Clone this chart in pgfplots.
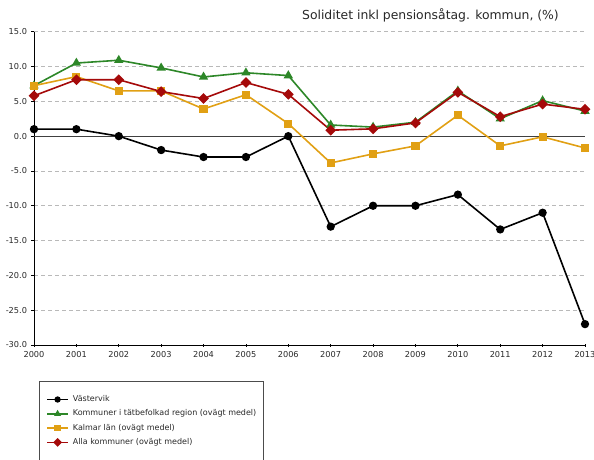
\documentclass[border=0pt]{standalone}
\usepackage{fontspec}
\setmainfont{DejaVu Sans}
\usepackage{pgfplots}
\pgfplotsset{compat=1.18}
\definecolor{cgreen}{RGB}{45,135,40}
\definecolor{cyellow}{RGB}{225,160,20}
\definecolor{cred}{RGB}{165,10,10}
\definecolor{cgrid}{RGB}{185,185,185}
\definecolor{ctext}{RGB}{40,40,40}
\begin{document}
\begin{tikzpicture}[x=1pt,y=1pt]
\useasboundingbox (0,0) rectangle (594,459);
\node[anchor=base east, inner sep=0pt, font=\fontsize{12.4}{14}\selectfont, text=ctext] at (559,439.5) {Soliditet inkl pensionsåtag. kommun, (\%)};
\begin{axis}[
  at={(34pt,114pt)}, anchor=south west,
  scale only axis, width=551pt, height=313.3pt,
  xmin=2000, xmax=2013, ymin=-30, ymax=15,
  axis x line*=bottom, axis y line*=left,
  axis line style={black, line width=1pt},
  xtick={2000,...,2013},
  xticklabels={2000,2001,2002,2003,2004,2005,2006,2007,2008,2009,2010,2011,2012,2013},
  ytick={-30,-25,...,15},
  yticklabels={-30.0,-25.0,-20.0,-15.0,-10.0,-5.0,0.0,5.0,10.0,15.0},
  ticklabel style={font=\fontsize{8.2}{9}\selectfont, text=ctext},
  x tick label style={yshift=-1.5pt},
  y tick label style={xshift=-0.5pt},
  xtick style={black, line width=0.7pt},
  ytick style={black, line width=0.7pt},
  major tick length=3pt,
  xtick align=center,
  ytick align=outside,
  ymajorgrids,
  major grid style={cgrid, dashed, dash pattern=on 4pt off 3pt, line width=0.8pt},
  clip=false,
  legend style={at={(0.00907,-0.1149)}, anchor=north west, draw=black!70,
    font=\fontsize{8}{9}\selectfont, text=ctext,
    nodes={inner sep=0pt, text height=5.5pt, text depth=1.5pt},
    row sep=7.3pt, inner xsep=7pt, inner ysep=14.8pt, column sep=0pt},
  legend cell align=left,
  legend image code/.code={\draw[#1, line width=1.8pt, mark size=2.2pt, mark repeat=2, mark phase=2] plot coordinates {(0pt,0pt) (10.5pt,0pt) (21pt,0pt)}; \path (25pt,0pt);},
]
\draw[black!75, line width=1pt] (axis cs:2000,0) -- (axis cs:2013,0);
\addplot[black, line width=1.6pt, mark=*, mark size=3.3pt, mark options={solid}] coordinates {
(2000,1.0) (2001,1.0) (2002,0.0) (2003,-2.0) (2004,-3.0) (2005,-3.0) (2006,0.0)
(2007,-13.0) (2008,-10.0) (2009,-10.0) (2010,-8.4) (2011,-13.4) (2012,-11.0) (2013,-27.0)};
\addlegendentry{Västervik}
\addplot[cgreen, line width=1.6pt, mark=triangle*, mark size=3.8pt] coordinates {
(2000,7.25) (2001,10.5) (2002,10.9) (2003,9.8) (2004,8.5) (2005,9.1) (2006,8.7)
(2007,1.6) (2008,1.3) (2009,2.0) (2010,6.5) (2011,2.5) (2012,5.1) (2013,3.6)};
\addlegendentry{Kommuner i tätbefolkad region (ovägt medel)}
\addplot[cyellow, line width=1.6pt, mark=square*, mark size=3.3pt] coordinates {
(2000,7.25) (2001,8.55) (2002,6.5) (2003,6.5) (2004,3.9) (2005,5.95) (2006,1.8)
(2007,-3.85) (2008,-2.55) (2009,-1.4) (2010,3.0) (2011,-1.4) (2012,-0.1) (2013,-1.7)};
\addlegendentry{Kalmar län (ovägt medel)}
\addplot[cred, line width=1.6pt, mark=square*, mark size=3.0pt, mark options={rotate=45}] coordinates {
(2000,5.8) (2001,8.1) (2002,8.1) (2003,6.4) (2004,5.4) (2005,7.7) (2006,6.0)
(2007,0.85) (2008,1.05) (2009,1.9) (2010,6.3) (2011,2.8) (2012,4.6) (2013,3.85)};
\addlegendentry{Alla kommuner (ovägt medel)}
\end{axis}
\end{tikzpicture}
\end{document}
